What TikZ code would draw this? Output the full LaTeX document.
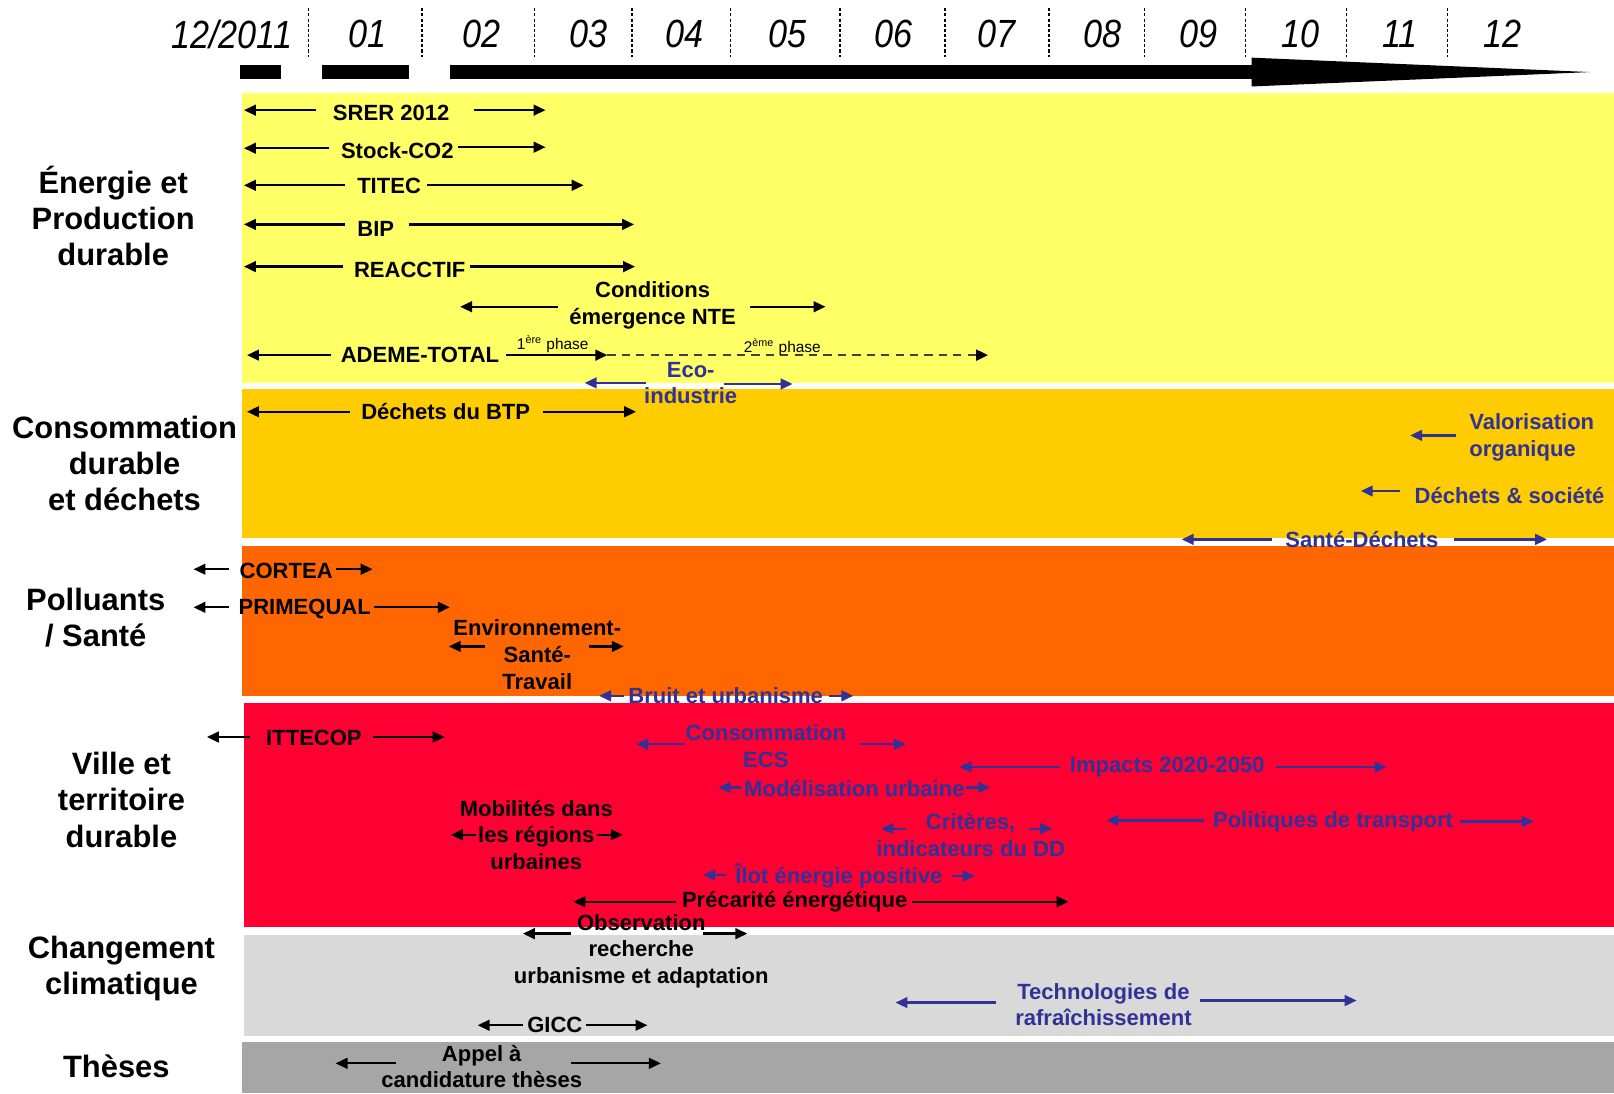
\documentclass[tikz,border=0pt]{standalone}
\usepackage{fontspec}
\setmainfont{Liberation Sans}
\usetikzlibrary{arrows.meta}
\definecolor{cyel}{HTML}{FFFF66}
\definecolor{camb}{HTML}{FFCC00}
\definecolor{cora}{HTML}{FF6600}
\definecolor{cred}{HTML}{FF0033}
\definecolor{clg}{HTML}{D9D9D9}
\definecolor{cdg}{HTML}{A6A6A6}
\definecolor{cblue}{RGB}{48,50,150}
\newcommand\harr[5]{\coordinate (#2s) at (#4,#3); \coordinate (#2e) at (#5,#3); \draw[#1] (#2s) -- (#2e);}
\begin{document}
\begin{tikzpicture}[x=0.5pt,y=-0.5pt,
  lbl/.style={font=\fontsize{10.7}{13}\selectfont\bfseries, inner sep=0pt, align=center},
  blbl/.style={lbl, text=cblue},
  arr/.style={-{Triangle[length=5.8pt,width=5.2pt]}, line width=1.1pt, draw=black},
  barr/.style={arr, draw=cblue},
  darr/.style={draw=black!75, line width=1.2pt, dash pattern=on 4pt off 3pt, -{Triangle[length=5.8pt,width=5.2pt,color=black]}},
  cat/.style={font=\fontsize{15}{17.6}\selectfont\bfseries, align=center, inner sep=0pt},
  mon/.style={font=\fontsize{16.6}{18}\selectfont\itshape, inner sep=0pt, yscale=1.15},
  tick/.style={line width=0.6pt, dash pattern=on 1.5pt off 1pt},
  small/.style={font=\fontsize{7.5}{8}\selectfont, inner sep=0pt}]
\useasboundingbox[fill=white] (0,0) rectangle (1568,1062);
% bands
\fill[cyel] (235,90) rectangle (1568,372);
\fill[camb] (235,378) rectangle (1568,523);
\fill[cora] (235,530) rectangle (1568,676);
\fill[cred] (237,683) rectangle (1568,901);
\fill[clg] (237,908) rectangle (1568,1006);
\fill[cdg] (235,1012) rectangle (1568,1062);
% timeline
\fill (233,63) rectangle (273,77);
\fill (313,63) rectangle (397,77);
\fill (437,63) rectangle (1216,77);
\fill (1216,56) -- (1545,70) -- (1216,84) -- cycle;
\foreach \x in {300,410,519,614,710,816,918,1019,1112,1210,1308,1406}
  \draw[tick] (\x,8) -- (\x,55);
\node[mon] (m0) at (225,33) {12/2011};
\node[mon] (m1) at (357,33) {01};
\node[mon] (m2) at (468,33) {02};
\node[mon] (m3) at (572,33) {03};
\node[mon] (m4) at (665,33) {04};
\node[mon] (m5) at (765,33) {05};
\node[mon] (m6) at (868,33) {06};
\node[mon] (m7) at (968,33) {07};
\node[mon] (m8) at (1071,33) {08};
\node[mon] (m9) at (1164,33) {09};
\node[mon] (m10) at (1263,33) {10};
\node[mon] (m11) at (1360,33) {11};
\node[mon] (m12) at (1460,33) {12};
% categories
\node[cat] (c1) at (110,210) {Énergie et\\Production\\durable};
\node[cat] (c2) at (121,450) {Consommation\\durable\\et déchets};
\node[cat] (c3) at (93,600) {Polluants\\/ Santé};
\node[cat] (c4) at (118,777) {Ville et\\territoire\\durable};
\node[cat] (c5) at (118,941) {Changement\\climatique};
\node[cat] (c6) at (113,1036) {Thèses};
% yellow band
\node[lbl] (srer) at (380,110) {SRER 2012};
\harr{arr}{srerl}{107}{307}{237}\harr{arr}{srerr}{107}{460}{530}
\node[lbl] (stock) at (386,146) {Stock-CO2};
\harr{arr}{stockl}{144}{320}{237}\harr{arr}{stockr}{143}{445}{530}
\node[lbl] (titec) at (378,181) {TITEC};
\harr{arr}{titecl}{180}{335}{237}\harr{arr}{titecr}{180}{415}{567}
\node[lbl] (bip) at (365,222) {BIP};
\harr{arr}{bipl}{218}{335}{237}\harr{arr}{bipr}{218}{397}{616}
\node[lbl] (reac) at (398,262) {REACCTIF};
\harr{arr}{reacl}{259}{333}{237}\harr{arr}{reacr}{259}{457}{617}
\node[lbl] (nte) at (634,297) {Conditions\\émergence NTE};
\harr{arr}{ntel}{298}{542}{447}\harr{arr}{nter}{298}{729}{802}
\node[lbl] (ademe) at (408,345) {ADEME-TOTAL};
\harr{arr}{ademel}{345}{322}{240}\harr{arr}{ademer}{345}{492}{590}
\coordinate (ademed) at (960,345);
\draw[darr] (ademere) -- (ademed);
\node[small] (ph1) at (537,334) {1\textsuperscript{ère} phase};
\node[small] (ph2) at (760,337) {2\textsuperscript{ème} phase};
\node[blbl] (eco) at (671,372) {Eco-\\industrie};
\harr{barr}{ecol}{372}{628}{568}\harr{barr}{ecor}{373}{703}{770}
% amber band
\node[lbl] (btp) at (433,400) {Déchets du BTP};
\harr{arr}{btpl}{400}{340}{240}\harr{arr}{btpr}{400}{528}{618}
\node[blbl, anchor=west, align=left] (valo) at (1427,425) {Valorisation\\organique};
\harr{barr}{valol}{423}{1414}{1370}
\node[blbl, anchor=west] (dsoc) at (1374,481) {Déchets \& société};
\harr{barr}{dsocl}{477}{1360}{1322}
\node[blbl] (sdech) at (1323,524) {Santé-Déchets};
\harr{barr}{sdechl}{524}{1236}{1148}\harr{barr}{sdechr}{524}{1413}{1503}
% orange band
\node[lbl] (cortea) at (278,555) {CORTEA};
\harr{arr}{cortl}{553}{222}{188}\harr{arr}{cortr}{553}{326}{362}
\node[lbl] (prim) at (296,592) {PRIMEQUAL};
\harr{arr}{priml}{590}{222}{188}\harr{arr}{primr}{590}{363}{437}
\node[lbl] (est) at (522,636) {Environnement-\\Santé-\\Travail};
\harr{arr}{estl}{628}{471}{436}\harr{arr}{estr}{628}{572}{606}
\node[blbl] (bruit) at (705,676) {Bruit et urbanisme};
\harr{barr}{bruitl}{676}{606}{582}\harr{barr}{bruitr}{676}{805}{829}
% red band
\node[lbl] (itt) at (305,717) {ITTECOP};
\harr{arr}{ittl}{716}{243}{201}\harr{arr}{ittr}{716}{362}{432}
\node[blbl] (ecs) at (744,725) {Consommation\\ECS};
\harr{barr}{ecsl}{723}{665}{618}\harr{barr}{ecsr}{723}{835}{880}
\node[blbl] (imp) at (1134,745) {Impacts 2020-2050};
\harr{barr}{impl}{745}{1030}{932}\harr{barr}{impr}{745}{1240}{1347}
\node[blbl] (mod) at (830,766) {Modélisation urbaine};
\harr{barr}{modl}{765}{720}{698}\harr{barr}{modr}{765}{938}{962}
\node[lbl] (mob) at (521,811) {Mobilités dans\\les régions\\urbaines};
\harr{arr}{mobl}{811}{462}{438}\harr{arr}{mobr}{811}{580}{605}
\node[blbl] (crit) at (943,811) {Critères,\\indicateurs du DD};
\harr{barr}{critl}{805}{880}{856}\harr{barr}{critr}{805}{1000}{1022}
\node[blbl] (pol) at (1295,798) {Politiques de transport};
\harr{barr}{poll}{797}{1170}{1075}\harr{barr}{polr}{798}{1418}{1490}
\node[blbl] (ilot) at (815,851) {Îlot énergie positive};
\harr{barr}{ilotl}{850}{705}{683}\harr{barr}{ilotr}{851}{925}{947}
\node[lbl] (prec) at (772,876) {Précarité énergétique};
\harr{arr}{precl}{876}{657}{557}\harr{arr}{precr}{876}{886}{1038}
% light gray band
\node[lbl] (obs) at (623,924) {Observation\\recherche\\urbanisme et adaptation};
\harr{arr}{obsl}{907}{555}{508}\harr{arr}{obsr}{907}{683}{726}
\node[blbl] (tech) at (1072,976) {Technologies de\\rafraîchissement};
\harr{barr}{techl}{974}{968}{870}\harr{barr}{techr}{972}{1166}{1318}
\node[lbl] (gicc) at (539,996) {GICC};
\harr{arr}{giccl}{996}{508}{464}\harr{arr}{giccr}{996}{569}{629}
% dark gray band
\node[lbl] (appel) at (468,1036) {Appel à\\candidature thèses};
\harr{arr}{appl}{1033}{385}{326}\harr{arr}{appr}{1033}{555}{642}
\end{tikzpicture}
\end{document}
